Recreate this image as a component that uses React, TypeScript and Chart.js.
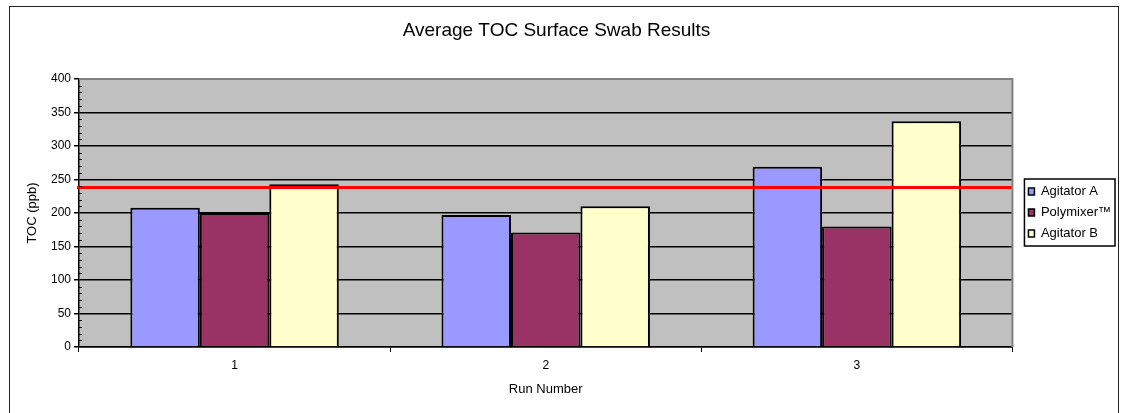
import React, { useEffect, useRef } from "react";
import { Chart, registerables } from "chart.js";

Chart.register(...registerables);

const runs = ["1", "2", "3"];
const agitatorA = [208, 197, 269];
const polymixer = [200, 171, 180];
const agitatorB = [243, 210, 337];
const limitValue = [238];
const yTicks = [0, 50, 100, 150, 200, 250, 300, 350, 400];
const minorStep = 10;

const FONT = "'Liberation Sans', Arial, sans-serif";

const plotPlugin = {
  id: "plotDecor",
  afterLayout(chart: any) {
    const lg = chart.legend;
    if (lg) {
      lg.left += 8;
      lg.right += 8;
      lg.top += 6;
      lg.bottom += 6;
    }
  },
  beforeDraw(chart: any) {
    const { ctx, chartArea: a } = chart;
    ctx.save();
    ctx.fillStyle = "#C0C0C0";
    ctx.fillRect(a.left, a.top, a.right - a.left, a.bottom - a.top);
    ctx.restore();
  },
  afterDatasetsDraw(chart: any) {
    const { ctx, chartArea: a, scales } = chart;
    const y = scales.y;
    const py = y.getPixelForValue(limitValue[0]);
    ctx.save();
    ctx.strokeStyle = "#FF0000";
    ctx.lineWidth = 3;
    ctx.beginPath();
    ctx.moveTo(a.left - 2, py);
    ctx.lineTo(a.right, py);
    ctx.stroke();
    ctx.strokeStyle = "#808080";
    ctx.lineWidth = 2;
    ctx.beginPath();
    ctx.moveTo(a.left, a.top);
    ctx.lineTo(a.right, a.top);
    ctx.lineTo(a.right, a.bottom);
    ctx.stroke();
    ctx.strokeStyle = "#000";
    ctx.lineWidth = 1;
    ctx.beginPath();
    for (let v = y.min; v <= y.max; v += minorStep) {
      if (v % 50 === 0) continue;
      const p = Math.round(y.getPixelForValue(v)) + 0.5;
      ctx.moveTo(a.left, p);
      ctx.lineTo(a.left + 3, p);
    }
    ctx.stroke();
    const lg = chart.legend;
    if (lg && lg.legendHitBoxes && lg.legendHitBoxes.length) {
      const hb = lg.legendHitBoxes;
      let l = Infinity, t = Infinity, r = -Infinity, b = -Infinity;
      hb.forEach((h: any) => {
        l = Math.min(l, h.left);
        t = Math.min(t, h.top);
        r = Math.max(r, h.left + h.width);
        b = Math.max(b, h.top + h.height);
      });
      ctx.strokeStyle = "#000";
      ctx.lineWidth = 1.5;
      ctx.strokeRect(l - 4, t - 6, r - l + 8, b - t + 12);
    }
    ctx.restore();
  },
};

export default function App() {
  const ref = useRef<HTMLCanvasElement>(null);
  useEffect(() => {
    const chart = new Chart(ref.current as HTMLCanvasElement, {
      type: "bar",
      data: {
        labels: runs,
        datasets: [
          { label: "Agitator A", data: agitatorA, backgroundColor: "#9999FF", borderColor: "#000", borderWidth: 2 },
          { label: "Polymixer™", data: polymixer, backgroundColor: "#993366", borderColor: "#000", borderWidth: 2 },
          { label: "Agitator B", data: agitatorB, backgroundColor: "#FFFFCC", borderColor: "#000", borderWidth: 2 },
        ],
      },
      options: {
        animation: false,
        responsive: false,
        devicePixelRatio: 1,
        layout: { padding: { left: 0, right: 10, top: 0, bottom: 0 } },
        datasets: { bar: { categoryPercentage: 0.67, barPercentage: 1 } },
        plugins: {
          title: {
            display: true,
            text: "Average TOC Surface Swab Results",
            color: "#000",
            font: { family: FONT, size: 19, weight: "normal" },
            padding: { top: 19.6, bottom: 36.6 },
          },
          legend: {
            position: "right",
            labels: {
              color: "#000",
              font: { family: FONT, size: 13 },
              boxWidth: 6,
              boxHeight: 7,
              padding: 8,
              generateLabels: (chart: any) =>
                chart.data.datasets.map((d: any, i: number) => ({
                  text: d.label,
                  fillStyle: d.backgroundColor,
                  strokeStyle: "#000",
                  lineWidth: 1.5,
                  fontColor: "#000",
                  datasetIndex: i,
                  hidden: false,
                })),
            },
          },
          tooltip: { enabled: false },
        },
        scales: {
          x: {
            grid: { offset: true, drawOnChartArea: false, color: "#000", tickLength: 5 },
            border: { color: "#000", width: 1.5 },
            ticks: { color: "#000", font: { family: FONT, size: 12 }, padding: 6 },
            title: {
              display: true,
              text: "Run Number",
              color: "#000",
              font: { family: FONT, size: 13 },
              padding: { top: 4, bottom: 16 },
            },
            afterFit: (s: any) => { s.height = 66; },
          },
          y: {
            min: 0,
            max: 400,
            afterBuildTicks: (s: any) => { s.ticks = yTicks.map((v) => ({ value: v })); },
            grid: {
              color: (c: any) => (c.tick && c.tick.value === 400 ? "#808080" : "#000"),
              lineWidth: 1.5,
              tickLength: 5,
              tickColor: "#000",
            },
            border: { color: "#000", width: 1.5 },
            ticks: { color: "#000", font: { family: FONT, size: 12 }, padding: 3 },
            title: {
              display: true,
              text: "TOC (ppb)",
              color: "#000",
              font: { family: FONT, size: 13 },
              padding: { top: 25, bottom: 4 },
            },
            afterFit: (s: any) => { s.width = 79; },
          },
        },
      },
      plugins: [plotPlugin],
    });
    return () => chart.destroy();
  }, []);
  return (
    <div style={{ position: "fixed", left: 0, top: 0, width: 1123, height: 413, background: "#fff" }}>
      <div
        style={{
          position: "absolute",
          left: 9,
          top: 6,
          width: 1110,
          height: 430,
          border: "1.5px solid #222",
          boxSizing: "border-box",
        }}
      />
      <canvas ref={ref} width={1123} height={413} style={{ position: "absolute", left: 0, top: 0 }} />
    </div>
  );
}
